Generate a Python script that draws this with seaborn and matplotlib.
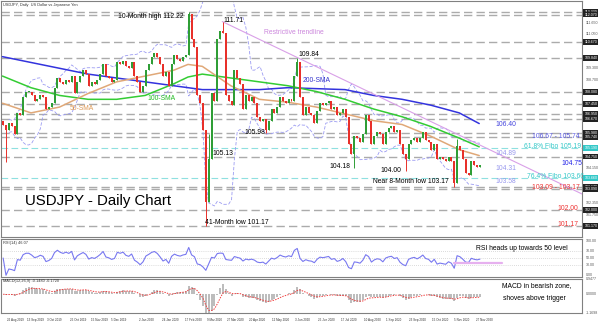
import numpy as np
import pandas as pd
import matplotlib
matplotlib.use("Agg")
import matplotlib.pyplot as plt
import matplotlib.transforms as mtransforms
import seaborn as sns

sns.set_theme(style="white")
plt.rcParams["font.family"] = ["Liberation Sans", "DejaVu Sans"]

# ---------------- data ----------------
first_day = "2019-08-21"
last_day = "2020-12-01"
open_first = 106.6
# one candle = two trading days
closes = [
    106.4, 106.1, 106.5, 106.3,
    105.9, 107.0, 106.9, 107.8, 108.1, 108.1, 107.9, 107.6, 107.7, 107.9, 107.8,
    107.2, 107.3, 107.5, 108.3, 108.8, 108.6, 108.5, 108.7, 108.6, 108.9, 108.0,
    108.6, 108.9, 109.2, 109.0, 108.4, 108.6, 108.5, 108.7, 109.0, 109.5, 108.9,
    108.8, 108.6, 108.7, 109.6, 109.5, 109.7, 109.4, 109.3, 109.6, 108.9, 108.6,
    108.1, 108.4, 109.2, 109.5, 109.9, 110.1, 109.9, 109.5, 108.9, 109.1, 108.4,
    109.5, 110.0, 109.8, 109.7, 109.9, 110.0, 112.1, 110.8, 110.4, 107.9,
    107.5, 106.1, 102.4, 104.6, 108.0, 107.6, 110.8, 111.2, 111.1, 107.9, 107.6,
    107.4, 109.2, 108.8, 108.5, 107.2, 107.9, 107.6, 107.8, 107.5, 106.8, 106.6,
    106.7, 106.1, 106.6, 107.2, 107.0, 107.3, 107.8, 107.6, 107.5, 107.7, 107.6,
    108.9, 109.6, 107.8, 106.9, 107.3, 107.0, 106.9, 106.5, 107.1, 107.5, 107.4,
    107.5, 107.6, 107.2, 107.3, 106.9, 107.0, 107.2, 106.8, 105.4, 104.9, 105.8,
    105.7, 105.5, 105.9, 106.9, 106.6, 105.4, 105.8, 106.0, 105.9, 105.4, 106.0,
    106.2, 106.3, 106.0, 106.1, 105.4, 104.9, 104.6, 105.4, 105.6, 105.7, 105.5,
    105.7, 106.0, 105.6, 105.5, 105.1, 105.4, 104.6, 104.7, 104.6, 104.5, 104.7,
    104.5, 103.4, 105.3, 105.1, 104.6, 103.9, 103.8, 104.5, 104.3, 104.2, 104.3,
]
spike_candle = [1, 65, 71, 72, 77, 92, 103, 123, 141, 158, 159]
spike_price = [104.46, 112.22, 101.17, 105.90, 111.71, 105.98, 109.84, 104.18, 104.00, 103.17, 105.65]

ma_knot_day = [0, 20, 40, 60, 80, 100, 120, 130, 140, 160, 180, 200, 220, 240, 260, 280, 300, 320, 334]
sma200 = [109.9, 109.6, 109.3, 109.0, 108.8, 108.6, 108.4, 108.3, 108.2, 108.2, 108.2, 108.3, 108.25, 108.2, 107.9, 107.7, 107.4, 107.0, 106.45]
sma100 = [108.9, 108.3, 107.9, 107.7, 107.7, 107.9, 108.5, 108.85, 109.0, 108.8, 108.6, 108.4, 108.1, 107.7, 107.2, 106.8, 106.3, 105.7, 105.25]
sma50 = [107.5, 107.0, 107.3, 108.0, 108.6, 108.9, 109.2, 109.5, 109.4, 108.4, 107.7, 107.55, 107.3, 106.95, 106.6, 106.4, 105.8, 105.1, 104.8]

levels_gray = [112.22, 112.07, 110.67, 109.84, 108.08, 107.45, 106.95, 106.67, 105.98, 105.74, 104.75, 103.17, 103.09, 102.00, 101.17]
levels_fibo = [105.19, 103.66]

trend_days = ["2020-03-24", "2020-06-05"]
trend_prices = [111.71, 109.84]

date_ticks = ["2019-08-26", "2019-09-13", "2019-10-03", "2019-10-25", "2019-11-15", "2019-12-05",
              "2020-01-02", "2020-01-24", "2020-02-17", "2020-03-09", "2020-03-27", "2020-04-20",
              "2020-05-12", "2020-06-03", "2020-06-25", "2020-07-17", "2020-08-10", "2020-09-01",
              "2020-09-23", "2020-10-15", "2020-11-05", "2020-11-27"]

# ---------------- derived ----------------
days = pd.bdate_range(first_day, last_day)
def didx(d):
    return int(days.get_loc(pd.Timestamp(d)))

c = np.array(closes, dtype=float)
o = np.r_[open_first, c[:-1]]
xk = np.arange(len(c)) * 2 + 0.5
df = pd.DataFrame({"x": xk, "close": c, "open": o})
df["bb_mid"] = df["close"].rolling(10, min_periods=3).mean()
df["bb_sd"] = df["close"].rolling(10, min_periods=3).std(ddof=0)
df["bb_up"] = df["bb_mid"] + 2 * df["bb_sd"]
df["bb_lo"] = df["bb_mid"] - 2 * df["bb_sd"]
d = df["close"].diff()
gain = d.clip(lower=0).ewm(alpha=1 / 7, adjust=False).mean()
loss = (-d.clip(upper=0)).ewm(alpha=1 / 7, adjust=False).mean()
df["rsi"] = (100 - 100 / (1 + gain / loss.replace(0, np.nan))).fillna(50)
df["macd"] = df["close"].ewm(span=6, adjust=False).mean() - df["close"].ewm(span=13, adjust=False).mean()
df["signal"] = df["macd"].ewm(span=4.5, adjust=False).mean()

W, H = 600, 323
fig = plt.figure(figsize=(W / 100, H / 100), dpi=100)
fig.patch.set_facecolor("white")
XL = (-1, 406)
ax = fig.add_axes([1 / W, 1 - 237 / H, 581 / W, 236 / H])
ax_r = fig.add_axes([1 / W, 1 - 277 / H, 581 / W, 38 / H])
ax_m = fig.add_axes([1 / W, 1 - 313 / H, 581 / W, 34 / H])
for a in (ax, ax_r, ax_m):
    a.set_xlim(*XL)
    a.set_facecolor("white")
    a.set_xticks([])
    a.set_yticks([])
    for s in a.spines.values():
        s.set_color("#808080")
        s.set_linewidth(0.8)

ax.set_ylim(100.60, 112.77)

# level lines
for lv in levels_gray:
    ax.axhline(lv, color="#ababab", lw=1.0, ls=(0, (6, 3)), zorder=1)
for lv in levels_fibo:
    ax.axhline(lv, color="#8fe0e0", lw=0.8, ls=(0, (6, 3)), zorder=1)

# bollinger
for col in ("bb_up", "bb_lo"):
    sns.lineplot(data=df, x="x", y=col, ax=ax, color="#9c9cf2", lw=0.6, ls=(0, (4, 2)), estimator=None, zorder=2)

# moving averages
mx = np.array(ma_knot_day, dtype=float)
sns.lineplot(x=mx, y=sma200, ax=ax, color="#3333dd", lw=1.1, estimator=None, zorder=3)
sns.lineplot(x=mx, y=sma100, ax=ax, color="#33cc33", lw=1.1, estimator=None, zorder=3)
sns.lineplot(x=mx, y=sma50, ax=ax, color="#e0a878", lw=1.1, estimator=None, zorder=3)

# trendline
t0, t1 = didx(trend_days[0]), didx(trend_days[1])
slope = (trend_prices[1] - trend_prices[0]) / (t1 - t0)
tx = np.array([t0, XL[1]], dtype=float)
ax.plot(tx, trend_prices[0] + slope * (tx - t0), color="#d9a0e8", lw=0.8, zorder=3)

# candles
up = df["close"] >= df["open"]
body_lo = np.minimum(df["open"], df["close"])
body_h = np.maximum(np.abs(df["close"] - df["open"]), 0.05)
colors = np.where(up, "#2f9e36", "#e8302a")
hi = np.maximum(df["open"], df["close"]).values.copy()
lo = body_lo.values.copy()
for k, p in zip(spike_candle, spike_price):
    if p > hi[k]:
        hi[k] = p
    if p < lo[k]:
        lo[k] = p
ax.vlines(df["x"], lo, hi, colors=colors, lw=0.7, zorder=4)
ax.bar(df["x"], body_h, bottom=body_lo, width=1.4, color=colors, linewidth=0, zorder=5)

# right axis boxed labels
tr = mtransforms.blended_transform_factory(ax.transAxes, ax.transData)
for lv in levels_gray:
    ax.text(1.004, lv, f"{lv:.3f}", transform=tr, fontsize=2.6, color="white", va="center", ha="left",
            bbox=dict(boxstyle="square,pad=0.25", fc="#222222", ec="none"), clip_on=False)
for lv in levels_fibo:
    ax.text(1.004, lv, f"{lv:.3f}", transform=tr, fontsize=2.6, color="white", va="center", ha="left",
            bbox=dict(boxstyle="square,pad=0.25", fc="#33c8c8", ec="none"), clip_on=False)
for lv in [111.65, 111.05, 109.30, 108.70, 104.15, 102.35, 101.75]:
    ax.text(1.006, lv, f"{lv:.3f}", transform=tr, fontsize=2.6, color="#555555", va="center", ha="left", clip_on=False)

# RSI panel
ax_r.set_ylim(-5, 105)
for lv in (70, 50, 30):
    ax_r.axhline(lv, color="#bbbbbb", lw=0.5, ls=(0, (1, 2)))
sns.lineplot(data=df, x="x", y="rsi", ax=ax_r, color="#7878f0", lw=0.8, estimator=None)
ax_r.plot([didx("2020-11-05"), didx("2020-11-05") + 34], [36, 36], color="#e6b0ef", lw=1.6)
ax_r.set_xlabel(""); ax_r.set_ylabel("")
trr = mtransforms.blended_transform_factory(ax_r.transAxes, ax_r.transData)
for lv in (100, 70, 50, 30, 0):
    ax_r.text(1.006, lv, f"{lv:.2f}", transform=trr, fontsize=2.6, color="#555555", va="center", ha="left", clip_on=False)

# MACD panel
ax_m.set_ylim(-1.17, 0.95)
ax_m.bar(df["x"], df["macd"], width=1.4, color="#bdbdbd", linewidth=0)
sns.lineplot(data=df, x="x", y="signal", ax=ax_m, color="#f04040", lw=0.7, ls=(0, (1.5, 1.2)), estimator=None)
ax_m.set_xlabel(""); ax_m.set_ylabel("")
trm = mtransforms.blended_transform_factory(ax_m.transAxes, ax_m.transData)
for lv, s in ((0.95, "0.9477"), (0.0, "0.0000"), (-1.17, "-1.1698")):
    ax_m.text(1.006, lv, s, transform=trm, fontsize=2.6, color="#555555", va="center", ha="left", clip_on=False)
ax_m.set_xticks([didx(t) for t in date_ticks])
ax_m.set_xticklabels([pd.Timestamp(t).strftime("%-d %b %Y") for t in date_ticks], fontsize=2.2, color="#333333", ha="left")
ax_m.tick_params(axis="x", length=2, pad=1.5, width=0.5, color="#808080")
for a in (ax, ax_r):
    a.set_xlabel(""); a.set_ylabel("")

# ---------------- annotations (figure pixels) ----------------
def ftext(x, y, s, color="black", size=4.9, **kw):
    fig.text(x / W, 1 - y / H, s, color=color, fontsize=size, ha="left", va="center", **kw)

ftext(3, 5, "USDJPY, Daily  US Dollar vs Japanese Yen", color="#333333", size=2.8)
ftext(118, 17, "10-Month high 112.22")
ftext(223, 20, "111.71")
ftext(264, 32, "Restrictive trendline", color="#cc88dd")
ftext(298, 54, "109.84")
ftext(303, 81, "200-SMA", color="#3333cc")
ftext(147, 99, "100-SMA", color="#22bb22")
ftext(70, 108, "50-SMA", color="#dd9955")
ftext(244, 133, "105.98")
ftext(212, 154, "105.13")
ftext(329, 166, "104.18")
ftext(380, 170, "104.00")
ftext(373, 182, "Near 8-Month low 103.17")
ftext(205, 223, "41-Month low 101.17")
ftext(25, 201, "USDJPY - Daily Chart", size=10.8)
ftext(495, 125, "106.40", color="#4444dd")
ftext(532, 137, "106.67 - 105.74", color="#5a5ae0")
ftext(524, 147, "61.8% Fibo 105.19", color="#33c8c8")
ftext(495, 154, "104.89", color="#9898ee")
ftext(561, 163, "104.75", color="#2424e8")
ftext(495, 168, "104.31", color="#9898ee")
ftext(527, 177, "76.4% Fibo 103.66", color="#33c8c8")
ftext(495, 182, "103.58", color="#9898ee")
ftext(532, 188, "103.09 - 103.17", color="#ee3333")
ftext(557, 208, "102.00", color="#ee3333")
ftext(557, 224, "101.17", color="#ee3333")
ftext(3, 243, "RSI(14) 46.07", color="#333333", size=2.8)
ftext(3, 281, "MACD(12,26,9) -0.1480 -0.1720", color="#333333", size=2.8)
ftext(476, 248, "RSI heads up towards 50 level")
ftext(502, 286, "MACD in bearish zone,")
ftext(503, 298, "shoves above trigger")

fig.savefig("out.png", dpi=100, facecolor="white")
